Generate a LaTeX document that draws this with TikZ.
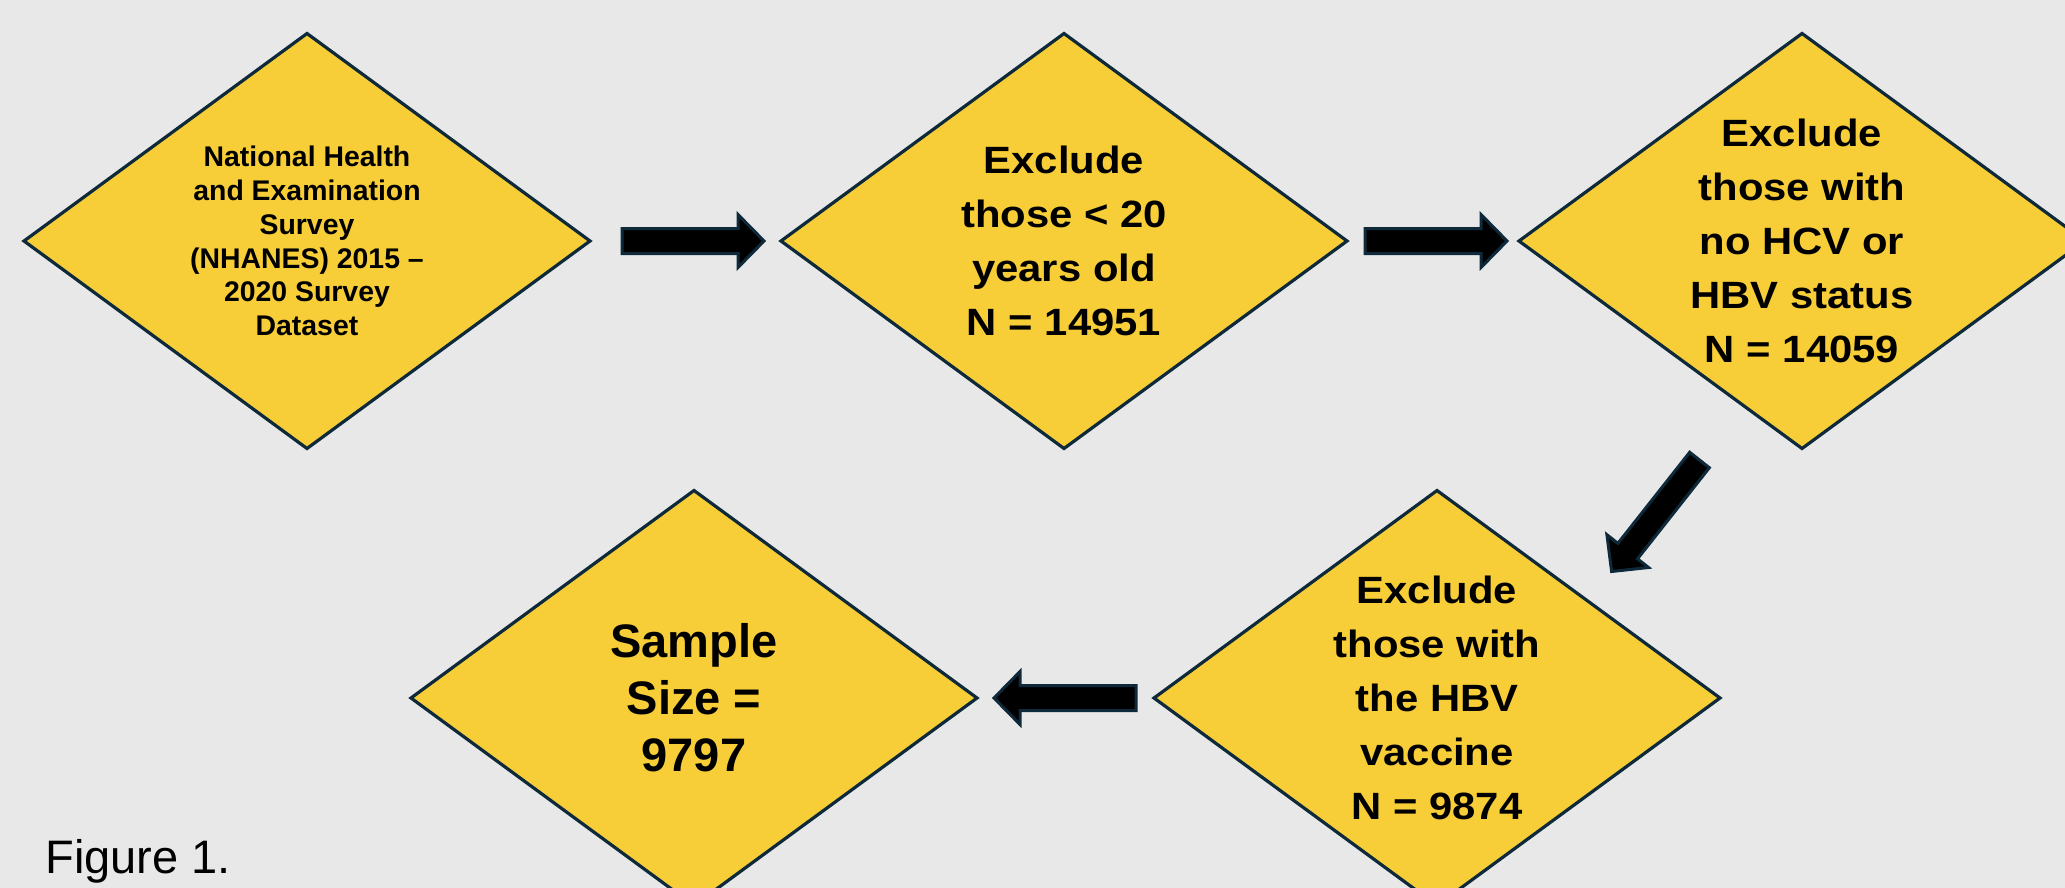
\documentclass[tikz,border=0pt]{standalone}
\usepackage{fontspec}
\setmainfont{Liberation Sans}
\newfontfamily\widefont[FakeStretch=1.1]{Liberation Sans}
\usetikzlibrary{shapes.geometric,calc}
\definecolor{bgcol}{HTML}{E8E8E8}
\definecolor{dyellow}{HTML}{F7CE37}
\definecolor{navyline}{HTML}{0E2A3A}
\tikzset{
  dia/.style={diamond, draw=navyline, fill=dyellow, line width=1.6pt,
    minimum width=283pt, minimum height=207.5pt, inner sep=0pt, outer sep=0pt},
  smalltxt/.style={align=center, inner sep=0pt, font=\bfseries\fontsize{14.2}{16.9}\selectfont},
  widetxt/.style={align=center, inner sep=0pt, font=\widefont\bfseries\fontsize{19}{27}\selectfont},
  bigtxt/.style={align=center, inner sep=0pt, font=\bfseries\fontsize{23.5}{28.5}\selectfont},
  arrowbody/.style={draw=navyline, fill=black, line width=1.5pt, line join=miter},
  barrow/.pic={\draw[arrowbody] (0,-12.5) -- (116,-12.5) -- (116,-26.5) -- (142,0)
      -- (116,26.5) -- (116,12.5) -- (0,12.5) -- cycle;}
}
\begin{document}
\begin{tikzpicture}[x=0.5pt,y=-0.5pt]
\useasboundingbox (0,0) rectangle (2065,888);
\fill[bgcol] (0,0) rectangle (2065,888);
\clip (0,0) rectangle (2065,888);

\node[dia, label={[smalltxt]center:National Health\\and Examination\\Survey\\(NHANES) 2015 –\\2020 Survey\\Dataset}] (d1) at (307,241) {};
\node[dia, label={[widetxt]center:Exclude\\those < 20\\years old\\N = 14951}] (d2) at (1064,241) {};
\node[dia, label={[widetxt]center:Exclude\\those with\\no HCV or\\HBV status\\N = 14059}] (d3) at (1802,241) {};
\node[dia, label={[widetxt]center:Exclude\\those with\\the HBV\\vaccine\\N = 9874}] (d4) at (1437,698) {};
\node[dia, label={[bigtxt]center:Sample\\Size =\\9797}] (d5) at (694,698) {};

\coordinate (a1s) at ($(d1.east)+(32,0)$);
\coordinate (a2s) at ($(d2.east)+(18,0)$);
\coordinate (a3s) at ($(d3.south)+(-102.5,11.5)$);
\coordinate (a4s) at ($(d4.west)+(-18,0)$);

\pic at (a1s) {barrow};
\pic at (a2s) {barrow};
\pic[rotate=-128.25] at (a3s) {barrow};
\pic[rotate=180] at (a4s) {barrow};

\node[anchor=base west, inner sep=0pt, font=\fontsize{23.5}{28}\selectfont] (fig) at (45,873) {Figure 1.};
\end{tikzpicture}
\end{document}
